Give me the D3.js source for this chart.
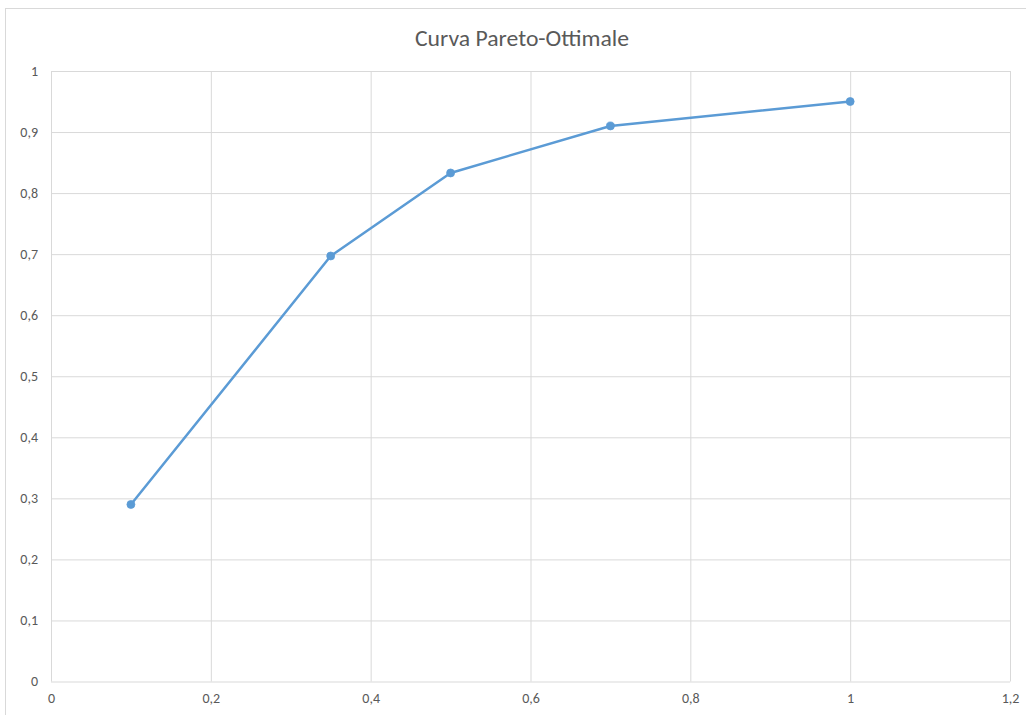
<!DOCTYPE html>
<html>
<head>
<meta charset="utf-8">
<script src="https://cdn.jsdelivr.net/npm/d3@7"></script>
<style>
  html, body { margin: 0; padding: 0; background: #fff; }
  svg { display: block; }
</style>
</head>
<body>
<svg id="chart" width="1026" height="715"></svg>
<script>
// Pareto-optimal curve data
const xValues = [0.1, 0.35, 0.5, 0.7, 1.0];
const yValues = [0.29, 0.697, 0.833, 0.91, 0.95];
const xTicks = [0, 0.2, 0.4, 0.6, 0.8, 1.0, 1.2];
const yTicks = [0, 0.1, 0.2, 0.3, 0.4, 0.5, 0.6, 0.7, 0.8, 0.9, 1.0];
const chartTitle = "Curva Pareto-Ottimale";

const svg = d3.select("#chart");
const W = 1026, H = 715;
const plot = { left: 51, right: 1010, top: 71, bottom: 681.5 };

const fmt = v => String(+v.toFixed(1)).replace(".", ",");
const font = "Carlito, 'Open Sans', 'Liberation Sans', sans-serif";

// outer chart frame
svg.append("rect")
  .attr("x", 5.5).attr("y", 8.5)
  .attr("width", W + 10).attr("height", H + 10)
  .attr("fill", "none").attr("stroke", "#d9d9d9").attr("stroke-width", 1);

const x = d3.scaleLinear().domain([0, 1.2]).range([plot.left, plot.right]);
const y = d3.scaleLinear().domain([0, 1]).range([plot.bottom, plot.top]);

// vertical gridlines
svg.append("g")
  .attr("transform", `translate(0,${plot.bottom})`)
  .call(d3.axisBottom(x).tickValues(xTicks).tickSize(-(plot.bottom - plot.top)).tickFormat(""))
  .call(g => g.select(".domain").remove())
  .call(g => g.selectAll("line").attr("stroke", "#d9d9d9").attr("stroke-width", 1));

// horizontal gridlines
svg.append("g")
  .attr("transform", `translate(${plot.left},0)`)
  .call(d3.axisLeft(y).tickValues(yTicks).tickSize(-(plot.right - plot.left)).tickFormat(""))
  .call(g => g.select(".domain").remove())
  .call(g => g.selectAll("line").attr("stroke", "#d9d9d9").attr("stroke-width", 1));

// x axis labels
svg.append("g")
  .attr("transform", `translate(0,${plot.bottom})`)
  .call(d3.axisBottom(x).tickValues(xTicks).tickSize(0).tickPadding(12).tickFormat(fmt))
  .call(g => g.select(".domain").remove())
  .call(g => g.selectAll("text")
    .attr("fill", "#595959").attr("font-family", font).attr("font-size", 14));

// y axis labels
svg.append("g")
  .attr("transform", `translate(${plot.left},0)`)
  .call(d3.axisLeft(y).tickValues(yTicks).tickSize(0).tickPadding(13).tickFormat(fmt))
  .call(g => g.select(".domain").remove())
  .call(g => g.selectAll("text")
    .attr("fill", "#595959").attr("font-family", font).attr("font-size", 14));

// title
svg.append("text")
  .attr("x", 522).attr("y", 46)
  .attr("text-anchor", "middle")
  .attr("fill", "#595959")
  .attr("font-family", font)
  .attr("font-size", 22)
  .attr("textLength", 214)
  .attr("lengthAdjust", "spacingAndGlyphs")
  .text(chartTitle);

// series line
const pts = xValues.map((v, i) => [v, yValues[i]]);
svg.append("path")
  .datum(pts)
  .attr("fill", "none")
  .attr("stroke", "#5b9bd5")
  .attr("stroke-width", 2.5)
  .attr("stroke-linejoin", "round")
  .attr("d", d3.line().x(d => x(d[0])).y(d => y(d[1])));

// markers
svg.append("g").selectAll("circle")
  .data(pts)
  .join("circle")
  .attr("cx", d => x(d[0]))
  .attr("cy", d => y(d[1]))
  .attr("r", 4)
  .attr("fill", "#5b9bd5")
  .attr("stroke", "#5b9bd5")
  .attr("stroke-width", 0.75);
</script>
</body>
</html>
